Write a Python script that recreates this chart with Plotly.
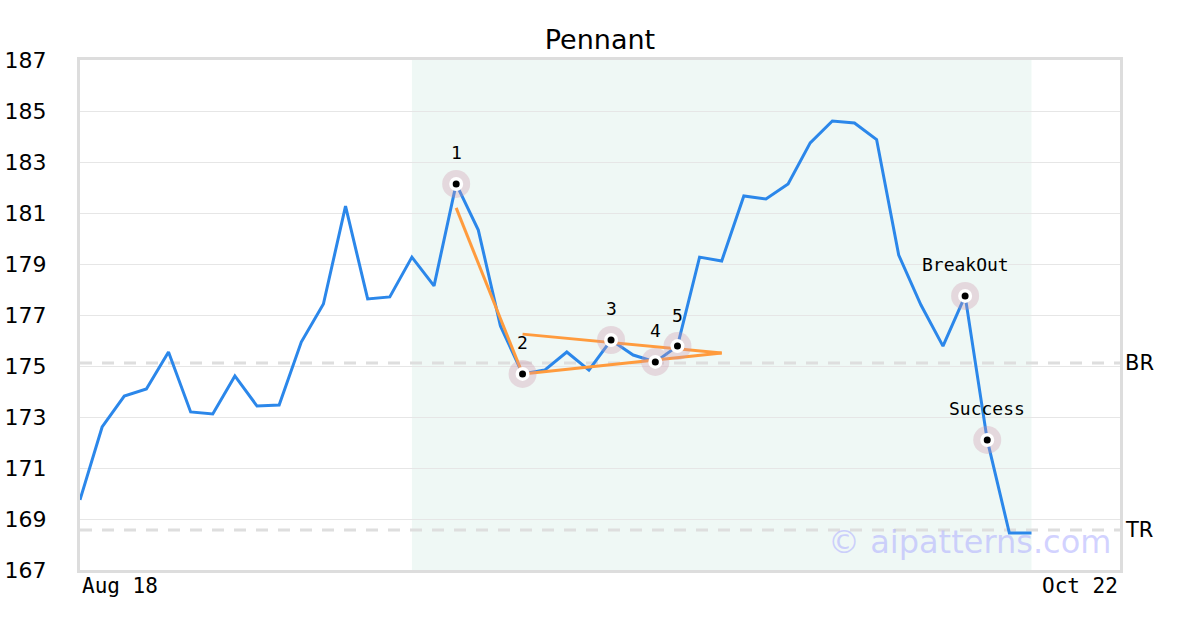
import plotly.graph_objects as go

# price series, one value per trading session
price = [
    169.75, 172.61, 173.82, 174.10, 175.55, 173.20, 173.12, 174.61, 173.43, 173.47,
    175.94, 177.43, 181.27, 177.63, 177.71, 179.27, 178.14, 182.14, 180.33, 176.57,
    174.69, 174.84, 175.55, 174.84, 176.02, 175.43, 175.16, 175.78, 179.27, 179.12,
    181.67, 181.55, 182.14, 183.75, 184.61, 184.53, 183.88, 179.35, 177.40, 175.78,
    177.75, 172.10, 168.45, 168.45,
]
idx = list(range(len(price)))

# pattern points
pt_labels = ["1", "2", "3", "4", "5", "BreakOut", "Success"]
pt_idx = [17, 20, 24, 26, 27, 40, 41]

# pennant construction lines (index pairs, values)
pole_x, pole_y = [17, 20], [181.20, 174.69]
upper_x, upper_y = [20, 29], [176.25, 175.51]
lower_x, lower_y = [20, 29], [174.69, 175.51]

# levels
br_level = 175.12
tr_level = 168.57

shade_start, shade_end = 15, 43
x_max = 47
x_ticks = [(0, "Aug 18", "left"), (47, "Oct 22", "right")]
y_ticks = list(range(167, 188, 2))

BLUE = "#2b87ea"
ORANGE = "#ff9b3d"
MONO = "DejaVu Sans Mono"
SANS = "DejaVu Sans"

fig = go.Figure()

fig.add_trace(go.Scatter(x=idx, y=price, mode="lines",
                         line=dict(color=BLUE, width=3), hoverinfo="skip"))
for xs, ys in [(pole_x, pole_y), (upper_x, upper_y), (lower_x, lower_y)]:
    fig.add_trace(go.Scatter(x=xs, y=ys, mode="lines",
                             line=dict(color=ORANGE, width=3), hoverinfo="skip"))

px_ = pt_idx
py_ = [price[i] for i in pt_idx]
fig.add_trace(go.Scatter(x=px_, y=py_, mode="markers",
                         marker=dict(size=28, color="rgba(205,150,170,0.32)", line=dict(width=0))))
fig.add_trace(go.Scatter(x=px_, y=py_, mode="markers",
                         marker=dict(size=14, color="white", line=dict(width=0))))
fig.add_trace(go.Scatter(x=px_, y=py_, mode="markers",
                         marker=dict(size=7, color="black", line=dict(width=0))))

for lab, xi, yi in zip(pt_labels, px_, py_):
    fig.add_annotation(x=xi, y=yi, text=lab, showarrow=False, yshift=31,
                       font=dict(family=MONO, size=18, color="black"))

fig.add_shape(type="rect", xref="x", yref="paper", x0=shade_start, x1=shade_end,
              y0=0, y1=1, fillcolor="#eff8f5", line=dict(width=0), layer="below")
for lvl, name in [(br_level, "BR"), (tr_level, "TR")]:
    fig.add_shape(type="line", xref="paper", yref="y", x0=0, x1=1, y0=lvl, y1=lvl,
                  line=dict(color="#dedede", width=3, dash="12px,10px"), layer="below")
    fig.add_annotation(xref="paper", yref="y", x=1, y=lvl, text=name, showarrow=False,
                       xanchor="left", xshift=3, font=dict(family=SANS, size=21, color="black"))

for xv, txt, anchor in x_ticks:
    fig.add_annotation(xref="x", yref="paper", x=xv, y=0, text=txt, showarrow=False,
                       xanchor=anchor, yanchor="top", yshift=-2,
                       font=dict(family=MONO, size=21, color="black"))

fig.add_annotation(xref="paper", yref="paper", x=0.993, y=0.055, text="© aipatterns.com",
                   showarrow=False, xanchor="right", yanchor="middle",
                   font=dict(family=SANS, size=32, color="rgba(180,180,255,0.6)"))

fig.update_layout(
    width=1200, height=630,
    margin=dict(l=80, r=80, t=60, b=60, autoexpand=False),
    paper_bgcolor="white", plot_bgcolor="white",
    showlegend=False,
    title=dict(text="Pennant", x=0.5, xanchor="center", y=0.937, yanchor="middle",
               font=dict(family=SANS, size=27, color="black")),
)
fig.update_xaxes(range=[0, x_max], showgrid=False, zeroline=False, showticklabels=False,
                 showline=True, mirror=True, linecolor="#dddddd", linewidth=3,
                 automargin=False)
fig.update_yaxes(range=[167, 187], tickvals=y_ticks, showgrid=True, gridcolor="#e6e6e6",
                 gridwidth=1, zeroline=False, showline=True, mirror=True,
                 linecolor="#dddddd", linewidth=3, ticklabelstandoff=26, automargin=False,
                 tickfont=dict(family=SANS, size=22, color="black"))

# page body has a default margin; drop it so the figure sits at the window origin
fig.write_html("out.html", config={"displayModeBar": False},
               post_script="document.body.style.margin='0';")
